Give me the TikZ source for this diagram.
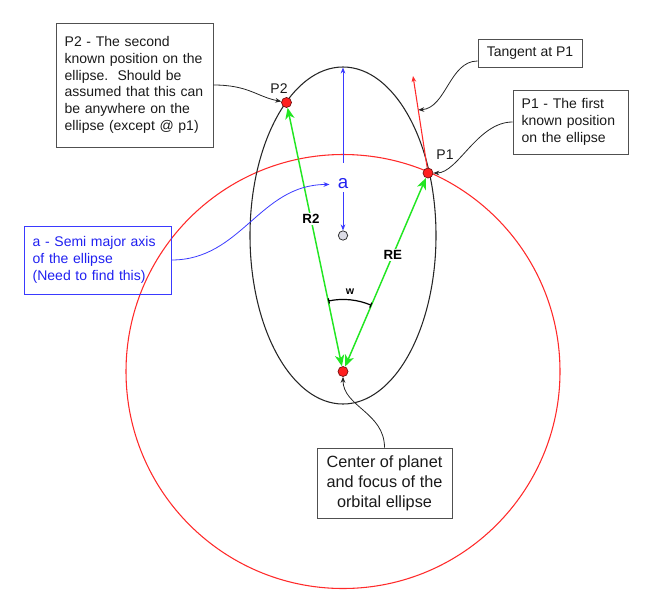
\documentclass[tikz,border=0pt]{standalone}
\usepackage{fontspec}
\setmainfont{Liberation Sans}
\usetikzlibrary{arrows.meta}
\definecolor{boxgray}{HTML}{505050}
\definecolor{txt}{HTML}{1A1A1A}
\definecolor{gline}{HTML}{22E622}
\definecolor{rline}{HTML}{FF2A2A}
\definecolor{bline}{HTML}{3A3AFF}
\definecolor{btxt}{HTML}{2020F0}
\definecolor{dotred}{HTML}{FF2020}
\definecolor{dotedge}{HTML}{701010}
\definecolor{greydot}{HTML}{DCDCE6}
\begin{document}
\begin{tikzpicture}[x=0.75pt,y=-0.75pt,
  font=\fontsize{10.5}{12.5}\selectfont,
  infobox/.style={draw=boxgray, line width=0.7pt, text=txt, inner xsep=6.5pt, inner ysep=2pt},
  dotnode/.style={circle, fill=dotred, draw=dotedge, line width=0.5pt, minimum size=7.5pt, inner sep=0pt},
  pointer/.style={draw=black!85, line width=0.6pt, -{Stealth[length=4.5pt,width=3.5pt]}},
  bpointer/.style={draw=bline, line width=0.6pt, -{Stealth[length=4.5pt,width=3.5pt]}},
  radline/.style={draw=gline, line width=1.1pt, {Stealth[length=8.5pt,width=7pt,inset=2.5pt]}-{Stealth[length=8.5pt,width=7pt,inset=2.5pt]}},
  radlabel/.style={fill=white, inner sep=1pt, font=\fontsize{10}{12}\selectfont\bfseries, text=black},
  ptlabel/.style={text=txt, inner sep=1pt},
]
\useasboundingbox (0,0) rectangle (666,600);
\coordinate (E) at (343,235.5);
\coordinate (F) at (343,371.5);
\draw[rline, line width=0.8pt] (F) circle[radius=217];
\draw[black!85, line width=0.8pt] (E) ellipse[x radius=93, y radius=168.5];

% points
\node[dotnode] (P2) at (286.5,102.5) {};
\node[dotnode] (P1) at (428,173) {};
\node[dotnode] (f) at (343,371.5) {};
\node[circle, fill=greydot, draw=black!80, line width=0.6pt, minimum size=7pt, inner sep=0pt] (c) at (343,235.5) {};
\coordinate (etop) at (343,67.5);
\node[ptlabel] (lP2) at (279,89) {P2};
\node[ptlabel] (lP1) at (445,155) {P1};

% semi major axis
\node[anchor=base, text=btxt, font=\fontsize{14}{14}\selectfont, inner xsep=6pt, inner ysep=0pt, text height=18.75pt, text depth=3pt] (a) at (343,188) {a};
\draw[bpointer] (a) -- (etop);
\draw[bpointer] (a) -- (c);

% radii
\draw[radline] (f) -- node[radlabel, pos=0.57]{R2} (P2);
\draw[radline] (f) -- node[radlabel, pos=0.59]{RE} (P1);

% tangent
\coordinate (ttip) at (413,76);
\draw[draw=rline, line width=0.8pt, -{Stealth[length=4.5pt,width=3.5pt]}] (P1) -- coordinate[pos=0.63] (tg) (ttip);

% angle w
\path (f.center) ++(-101.8:72) coordinate (w1);
\draw[black, line width=0.9pt, {Bar[width=4pt]}-{Bar[width=4pt]}] (w1) arc[start angle=-101.8, end angle=-66.8, radius=72];
\node[font=\fontsize{8}{8}\selectfont\bfseries, inner sep=0pt] (w) at (350,292) {w};

% boxes
\node[infobox, text width=104.75pt, minimum height=93pt, align=left] (p2box) at (134.5,85)
  {P2 - The second\\known position on the\\ellipse.\ \ Should be\\assumed that this can\\be anywhere on the\\ellipse (except @ p1)};
\node[infobox, minimum width=78pt, minimum height=21pt] (tbox) at (530,53) {Tangent at P1};
\node[infobox, text width=73.25pt, minimum height=48pt, align=left] (p1box) at (570.5,122)
  {P1 - The first\\known position\\on the ellipse};
\node[infobox, draw=bline, text=btxt, text width=97.25pt, minimum height=51pt, align=left] (abox) at (97.5,260)
  {a - Semi major axis\\of the ellipse\\(Need to find this)};
\node[infobox, align=center, minimum width=101.25pt, minimum height=52.5pt, font=\fontsize{12.2}{15}\selectfont] (cbox) at (384.5,483)
  {Center of planet\\and focus of the\\orbital ellipse};

% pointers
\draw[pointer] (p2box.east) .. controls +(35,0) and +(-30,-6) .. (P2);
\draw[pointer] ([yshift=-6pt]tbox.west) .. controls +(-28,0) and +(28,-2) .. (tg);
\draw[pointer] (p1box.west) .. controls +(-35,0) and +(30,0) .. (P1);
\draw[bpointer] (abox.east) .. controls +(70,0) and +(-70,0) .. (a.mid west);
\draw[pointer] (cbox.north) .. controls +(0,-35) and +(0,35) .. (f);
\end{tikzpicture}
\end{document}
